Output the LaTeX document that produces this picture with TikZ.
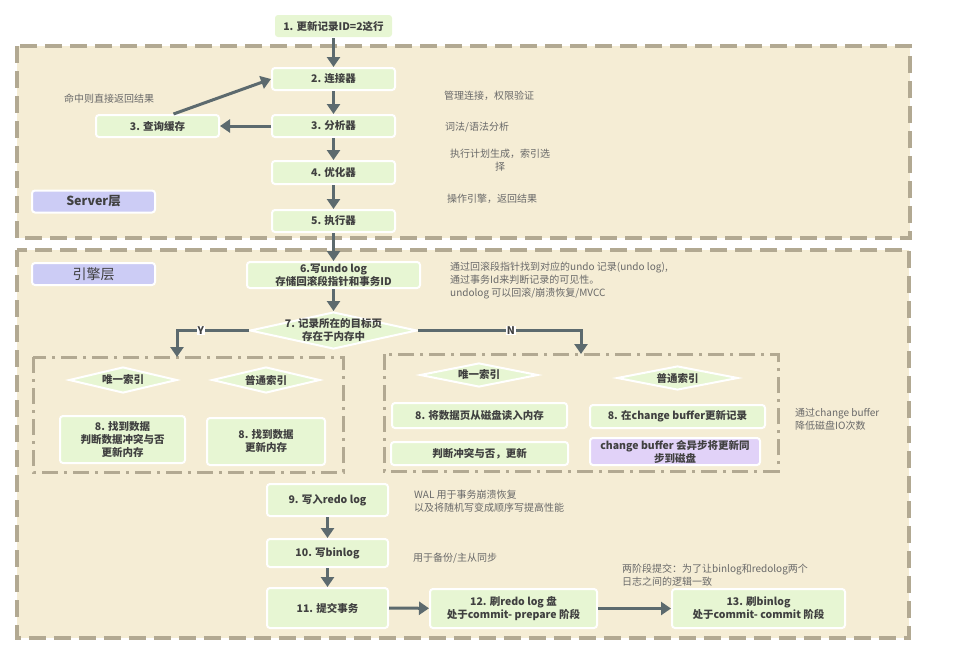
\documentclass[tikz,border=0pt]{standalone}
\usepackage{fontspec}
\setmainfont{Noto Sans CJK SC}
\usetikzlibrary{shapes.geometric, arrows.meta, positioning, calc}

\definecolor{framefill}{RGB}{245,237,213}
\definecolor{framedraw}{RGB}{178,169,146}
\definecolor{boxgreen}{RGB}{231,246,211}
\definecolor{tagblue}{RGB}{204,204,245}
\definecolor{syncpurple}{RGB}{225,210,248}
\definecolor{arrowgray}{RGB}{92,106,110}
\definecolor{boxtext}{RGB}{64,64,64}
\definecolor{notetext}{RGB}{105,105,105}

\begin{document}
\begin{tikzpicture}[
    x=1pt, y=-1pt,
    layer/.style={draw=framedraw, fill=framefill, line width=3.5pt, dash pattern=on 17pt off 8pt},
    sublayer/.style={draw=framedraw, line width=3pt, dash pattern=on 16pt off 6pt on 3pt off 6pt},
    block/.style={rectangle, draw=white, fill=boxgreen, line width=2pt, rounded corners=3pt, align=center, text=boxtext, font=\bfseries\fontsize{10.5}{13}\selectfont, inner sep=1pt},
    decision/.style={diamond, aspect=4.5, draw=white, fill=boxgreen, line width=2pt, align=center, text=boxtext, font=\bfseries\fontsize{10.5}{13}\selectfont, inner sep=-6pt},
    tag/.style={rectangle, draw=white, fill=tagblue, line width=2pt, rounded corners=3pt, text=boxtext, minimum width=123, minimum height=22},
    note/.style={text=notetext, font=\fontsize{10}{13}\selectfont, align=left, inner sep=0pt},
    branch/.style={fill=white, text=boxtext, inner sep=1pt, font=\bfseries\fontsize{10.5}{11}\selectfont},
    line/.style={draw=arrowgray, line width=3pt, -{Triangle[length=10pt,width=13pt]}}
]
\useasboundingbox (0,0) rectangle (962,648);

% layers
\draw [layer] (17,46) rectangle (910,238);
\draw [layer] (17,250) rectangle (909,638);
\draw [sublayer] (33,357) rectangle (343,472);
\draw [sublayer] (384,354) rectangle (778,471);

% server layer
\node [block, minimum width=117, minimum height=22, draw=none] (update) at (333.5,26) {1. 更新记录ID=2这行};
\node [block, minimum width=123, minimum height=22] (conn) at (333.5,79) {2. 连接器};
\node [block, minimum width=123, minimum height=22] (parse) at (333.5,126) {3. 分析器};
\node [block, minimum width=123, minimum height=22] (cache) at (157.5,126) {3. 查询缓存};
\node [block, minimum width=123, minimum height=23] (optim) at (333.5,172.5) {4. 优化器};
\node [block, minimum width=123, minimum height=22] (exec) at (333.5,221) {5. 执行器};
\node [tag, font=\bfseries\fontsize{12.5}{14}\selectfont] (servertag) at (93.5,201.5) {Server层};

\node [note, anchor=center] (hitnote) at (109,99) {命中则直接返回结果};
\node [note, anchor=west] (connnote) at (444,96) {管理连接，权限验证};
\node [note, anchor=west] (parsenote) at (445,127) {词法/语法分析};
\node [note, align=center] (optimnote) at (500,160) {执行计划生成，索引选\\择};
\node [note, anchor=west] (execnote) at (447,199) {操作引擎，返回结果};

% engine layer
\node [tag, font=\fontsize{14}{16}\selectfont] (enginetag) at (93.5,274) {引擎层};
\node [block, minimum width=173, minimum height=26] (undo) at (333.5,275) {6.写undo log\\存储回滚段指针和事务ID};
\node [decision, minimum width=167, minimum height=37] (inmem) at (333.5,330.5) {7. 记录所在的目标页\\存在于内存中};
\node [note, anchor=west] (undonote) at (450,281) {通过回滚段指针找到对应的undo 记录(undo log),\\通过事务Id来判断记录的可见性。\\undolog 可以回滚/崩溃恢复/MVCC};

% in memory
\node [decision, minimum width=108, minimum height=26] (luniq) at (123,380) {唯一索引};
\node [decision, minimum width=108, minimum height=26] (lnorm) at (266,380) {普通索引};
\node [block, minimum width=125, minimum height=47] (lfind) at (122.5,439.5) {8. 找到数据\\判断数据冲突与否\\更新内存};
\node [block, minimum width=118, minimum height=47] (lupdate) at (266,441.5) {8. 找到数据\\更新内存};

% not in memory
\node [decision, minimum width=118, minimum height=24] (runiq) at (479,375) {唯一索引};
\node [decision, minimum width=121, minimum height=24] (rnorm) at (677.5,378) {普通索引};
\node [block, minimum width=175, minimum height=25] (rread) at (479.5,415.5) {8. 将数据页从磁盘读入内存};
\node [block, minimum width=175, minimum height=23] (rbuffer) at (677.5,416.5) {8. 在change buffer更新记录};
\node [block, minimum width=177, minimum height=23] (rjudge) at (479.5,453.5) {判断冲突与否，更新};
\node [block, fill=syncpurple, minimum width=170, minimum height=27] (rsync) at (675,451.5) {change buffer 会异步将更新同\\步到磁盘};
\node [note, anchor=west] (buffernote) at (795,419.5) {通过change buffer\\降低磁盘IO次数};

% logs and commit
\node [block, minimum width=121, minimum height=32] (redo) at (327.5,500) {9. 写入redo log};
\node [block, minimum width=121, minimum height=28] (binlog) at (327.5,553) {10. 写binlog};
\node [block, minimum width=121, minimum height=40] (commit) at (327.5,608) {11. 提交事务};
\node [block, minimum width=167, minimum height=39] (prepare) at (513.5,608.5) {12. 刷redo log 盘\\处于commit- prepare 阶段};
\node [block, minimum width=173, minimum height=39] (flush) at (758.5,608.5) {13. 刷binlog\\处于commit- commit 阶段};

\node [note, anchor=west] (walnote) at (414,501) {WAL 用于事务崩溃恢复\\以及将随机写变成顺序写提高性能};
\node [note, anchor=west] (binlognote) at (413,558) {用于备份/主从同步};
\node [note, anchor=west] (twopcnote) at (622,575) {两阶段提交：为了让binlog和redolog两个\\日志之间的逻辑一致};

\coordinate (yend) at (177,357);
\coordinate (nend) at (581,354);

% arrows
\path [line] (update) -- (conn);
\path [line] (conn) -- (parse);
\path [line] (parse) -- (optim);
\path [line] (optim) -- (exec);
\path [line] (parse) -- (cache);
\path [line] ([xshift=16pt]cache.north) -- (conn.west);
\path [line] (exec) -- (undo);
\path [line] (undo) -- (inmem);
\path [line] (inmem.west) -| node [branch, pos=0.335] {Y} (yend);
\path [line] (inmem.east) -| node [branch, pos=0.285] {N} (nend);
\path [line] (redo) -- (binlog);
\path [line] (binlog) -- (commit);
\path [line] (commit) -- (prepare);
\path [line] (prepare) -- (flush);

\end{tikzpicture}
\end{document}
